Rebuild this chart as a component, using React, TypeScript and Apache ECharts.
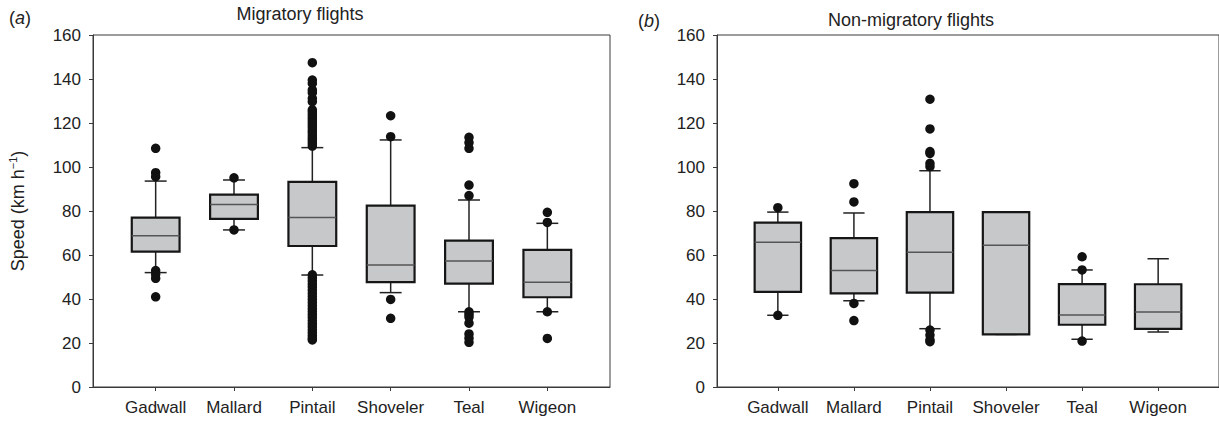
import React, { useEffect, useRef } from 'react';
import * as echarts from 'echarts';

const categories = ['Gadwall', 'Mallard', 'Pintail', 'Shoveler', 'Teal', 'Wigeon'];
const titles = ['Migratory flights', 'Non-migratory flights'];
const panelLetters = ['a', 'b'];
const yMin = 0;
const yMax = 160;
const yInterval = 20;

// [low whisker, Q1, median, Q3, high whisker]
const migratoryBoxes = [
  [52.0, 61.5, 68.8, 77.0, 93.6],
  [71.4, 76.4, 82.9, 87.4, 94.1],
  [50.9, 64.1, 77.0, 93.2, 108.8],
  [42.9, 47.7, 55.5, 82.4, 112.3],
  [34.2, 47.0, 57.3, 66.5, 85.0],
  [34.2, 40.8, 47.6, 62.3, 74.4],
];
const migratoryOutliers = [
  [108.5, 97.4, 95.6, 52.9, 51.2, 49.4, 41.0],
  [95.1, 71.4],
  [147.4, 139.5, 138.0, 135.0, 133.8, 131.2, 129.7, 126.0, 125.0, 123.8, 122.5, 121.4,
    120.2, 119.0, 117.8, 116.5, 115.4, 114.2, 113.0, 111.9, 110.7, 109.5,
    51.0, 49.6, 48.2, 46.8, 45.5, 44.0, 42.6, 41.2, 39.8, 38.4, 37.0, 35.6, 34.3,
    33.0, 31.6, 30.2, 28.8, 27.4, 26.0, 24.7, 23.4, 22.2, 21.4],
  [123.3, 113.8, 39.8, 31.2],
  [113.5, 111.1, 108.5, 91.8, 87.0, 34.2, 33.0, 31.8, 29.0, 24.1, 22.2, 20.3],
  [79.4, 74.8, 34.2, 22.1],
];

const nonMigratoryBoxes = [
  [32.6, 43.2, 65.8, 74.7, 79.5],
  [39.2, 42.6, 52.9, 67.7, 79.1],
  [26.5, 42.9, 61.2, 79.5, 98.3],
  [23.9, 23.9, 64.4, 79.5, 79.5],
  [21.7, 28.3, 32.7, 46.8, 53.2],
  [25.0, 26.4, 34.1, 46.7, 58.3],
];
const nonMigratoryOutliers = [
  [81.5, 32.6],
  [92.4, 84.1, 38.0, 30.2],
  [130.8, 117.3, 107.0, 106.2, 101.7, 100.2, 25.9, 23.6, 21.4, 20.6],
  [],
  [59.2, 53.2, 20.9],
  [],
];

const FONT = "'Liberation Sans', Arial, Helvetica, sans-serif";
const TEXT = '#222222';
const AXIS = '#3a3a3a';
const BOX_WIDTH = 0.61;
const CAP_WIDTH = 0.28;
const positions = categories.map((_, i) => i + 1);

const renderBox = (params: any, api: any) => {
  const x = api.value(0);
  const pLow = api.coord([x, api.value(1)]);
  const pQ1 = api.coord([x, api.value(2)]);
  const pMed = api.coord([x, api.value(3)]);
  const pQ3 = api.coord([x, api.value(4)]);
  const pHigh = api.coord([x, api.value(5)]);
  const bw = api.size([BOX_WIDTH, 0])[0];
  const cw = api.size([CAP_WIDTH, 0])[0];
  const cx = pMed[0];
  const ws = { stroke: '#222222', lineWidth: 1.5 };
  return {
    type: 'group',
    children: [
      { type: 'line', shape: { x1: cx, y1: pHigh[1], x2: cx, y2: pQ3[1] }, style: ws },
      { type: 'line', shape: { x1: cx - cw / 2, y1: pHigh[1], x2: cx + cw / 2, y2: pHigh[1] }, style: ws },
      { type: 'line', shape: { x1: cx, y1: pQ1[1], x2: cx, y2: pLow[1] }, style: ws },
      { type: 'line', shape: { x1: cx - cw / 2, y1: pLow[1], x2: cx + cw / 2, y2: pLow[1] }, style: ws },
      {
        type: 'rect',
        shape: { x: cx - bw / 2, y: pQ3[1], width: bw, height: pQ1[1] - pQ3[1] },
        style: { fill: '#c7c8ca', stroke: '#161616', lineWidth: 2.2 },
      },
      {
        type: 'line',
        shape: { x1: cx - bw / 2, y1: pMed[1], x2: cx + bw / 2, y2: pMed[1] },
        style: { stroke: '#555555', lineWidth: 1.5 },
      },
    ],
  };
};

const panels = [
  { left: 93, width: 517, boxes: migratoryBoxes, outliers: migratoryOutliers },
  { left: 717, width: 506, boxes: nonMigratoryBoxes, outliers: nonMigratoryOutliers },
];

export default function App() {
  const ref = useRef<HTMLDivElement>(null);
  useEffect(() => {
    if (!ref.current) return;
    const chart = echarts.init(ref.current, null, { renderer: 'svg' });
    const lineStyle = { color: AXIS, width: 1 };
    const option: any = {
      animation: false,
      backgroundColor: '#ffffff',
      textStyle: { fontFamily: FONT },
      grid: panels.map((p) => ({
        left: p.left,
        top: 35,
        width: p.width,
        height: 352,
        show: true,
        borderColor: AXIS,
        borderWidth: 1,
        backgroundColor: 'transparent',
        containLabel: false,
      })),
      xAxis: panels.map((p, gi) => ({
        gridIndex: gi,
        type: 'value',
        min: 0.2,
        max: 6.8,
        axisLine: { show: true, lineStyle },
        axisTick: { show: true, customValues: positions, length: 4, inside: false, lineStyle },
        axisLabel: {
          customValues: positions,
          formatter: (v: number) => categories[Math.round(v) - 1] ?? '',
          fontSize: 17,
          color: TEXT,
          margin: 12,
          fontFamily: FONT,
        },
        splitLine: { show: false },
      })),
      yAxis: panels.map((p, gi) => ({
        gridIndex: gi,
        type: 'value',
        min: yMin,
        max: yMax,
        interval: yInterval,
        axisLine: { show: true, lineStyle },
        axisTick: { show: true, length: 4, inside: false, lineStyle },
        axisLabel: { fontSize: 17, color: TEXT, margin: 12, fontFamily: FONT },
        splitLine: { show: false },
        ...(gi === 0
          ? {
              name: '{a|Speed (km h}{s|−1}{a|)}',
              nameLocation: 'middle',
              nameRotate: 90,
              nameGap: 64,
              nameTextStyle: {
                fontFamily: FONT,
                color: TEXT,
                fontSize: 18,
                rich: {
                  a: { fontSize: 18, fontFamily: FONT, color: TEXT, lineHeight: 22 },
                  s: { fontSize: 11, fontFamily: FONT, color: TEXT, lineHeight: 11, verticalAlign: 'top' },
                },
              },
            }
          : {}),
      })),
      series: panels.flatMap((p, gi) => [
        {
          type: 'custom',
          xAxisIndex: gi,
          yAxisIndex: gi,
          renderItem: renderBox,
          encode: { x: 0, y: [1, 2, 3, 4, 5] },
          data: p.boxes.map((b, i) => [positions[i], ...b]),
          z: 2,
        },
        {
          type: 'scatter',
          xAxisIndex: gi,
          yAxisIndex: gi,
          symbol: 'circle',
          symbolSize: 9.5,
          itemStyle: { color: '#111111', opacity: 1 },
          data: p.outliers.flatMap((arr, i) => arr.map((v) => [positions[i], v])),
          z: 3,
        },
      ]),
      graphic: [
        {
          type: 'text',
          x: 300,
          y: 14,
          style: { text: titles[0], fontSize: 18, fontFamily: FONT, fill: TEXT, textAlign: 'center', textVerticalAlign: 'middle' },
        },
        {
          type: 'text',
          x: 911,
          y: 20,
          style: { text: titles[1], fontSize: 18, fontFamily: FONT, fill: TEXT, textAlign: 'center', textVerticalAlign: 'middle' },
        },
        {
          type: 'text',
          x: 9,
          y: 18,
          style: {
            text: '({i|' + panelLetters[0] + '})',
            fontSize: 18,
            fontFamily: FONT,
            fill: TEXT,
            textAlign: 'left',
            textVerticalAlign: 'middle',
            rich: { i: { fontStyle: 'italic', fontSize: 18, fontFamily: FONT, fill: TEXT } },
          },
        },
        {
          type: 'text',
          x: 638,
          y: 21,
          style: {
            text: '({i|' + panelLetters[1] + '})',
            fontSize: 18,
            fontFamily: FONT,
            fill: TEXT,
            textAlign: 'left',
            textVerticalAlign: 'middle',
            rich: { i: { fontStyle: 'italic', fontSize: 18, fontFamily: FONT, fill: TEXT } },
          },
        },
      ],
    };
    chart.setOption(option);
    return () => chart.dispose();
  }, []);
  return (
    <div
      ref={ref}
      style={{ position: 'fixed', left: 0, top: 0, width: 1219, height: 422, background: '#fff' }}
    />
  );
}
